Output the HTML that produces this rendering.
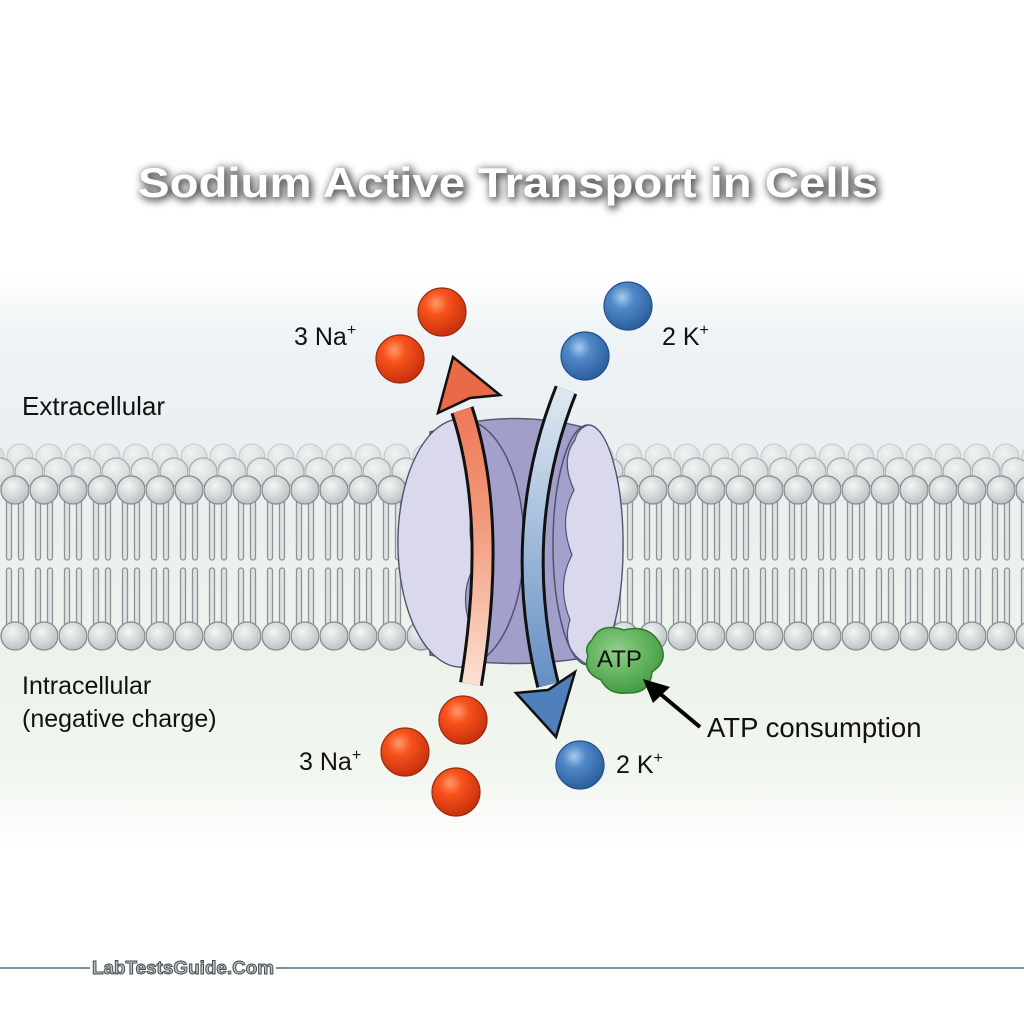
<!DOCTYPE html>
<html><head><meta charset="utf-8"><style>
html,body{margin:0;padding:0;background:#fff}
svg{display:block}
text{font-family:"Liberation Sans",sans-serif}
</style></head><body>
<svg width="1024" height="1024" viewBox="0 0 1024 1024" xmlns="http://www.w3.org/2000/svg">
<defs>
<linearGradient id="bg" x1="0" y1="0" x2="0" y2="1">
<stop offset="0.27" stop-color="#ffffff"/>
<stop offset="0.33" stop-color="#eef3f5"/>
<stop offset="0.45" stop-color="#e9eff0"/>
<stop offset="0.66" stop-color="#edf3ea"/>
<stop offset="0.76" stop-color="#f2f6f0"/>
<stop offset="0.83" stop-color="#ffffff"/>
</linearGradient>
<radialGradient id="head" cx="0.4" cy="0.35" r="0.7">
<stop offset="0" stop-color="#f4f6f6"/><stop offset="1" stop-color="#b8bfc0"/>
</radialGradient>
<radialGradient id="headb" cx="0.4" cy="0.35" r="0.7">
<stop offset="0" stop-color="#f2f4f4"/><stop offset="1" stop-color="#cfd5d6"/>
</radialGradient>
<pattern id="lipid" patternUnits="userSpaceOnUse" x="1" y="0" width="29" height="1024">
<g fill="#dfe3e3" stroke="#8d9495" stroke-width="1.3">
<rect x="5.5" y="500" width="5" height="60" rx="2.5"/>
<rect x="17.5" y="500" width="5" height="60" rx="2.5"/>
<rect x="5.5" y="568" width="5" height="58" rx="2.5"/>
<rect x="17.5" y="568" width="5" height="58" rx="2.5"/>
</g>
<circle cx="14" cy="490" r="14" fill="url(#head)" stroke="#858c8d" stroke-width="1.3"/>
<circle cx="14" cy="636" r="14" fill="url(#head)" stroke="#858c8d" stroke-width="1.3"/>
</pattern>
<pattern id="back1" patternUnits="userSpaceOnUse" x="15" y="0" width="29" height="1024">
<circle cx="14" cy="472" r="14" fill="url(#headb)" stroke="#a5acad" stroke-width="1.2"/>
</pattern>
<pattern id="back2" patternUnits="userSpaceOnUse" x="6" y="0" width="29" height="1024">
<circle cx="14" cy="457" r="13" fill="url(#headb)" stroke="#bbc1c2" stroke-width="1.1" opacity="0.8"/>
</pattern>
<radialGradient id="na" cx="0.38" cy="0.32" r="0.7">
<stop offset="0" stop-color="#ff9a6a"/><stop offset="0.35" stop-color="#f8521c"/><stop offset="1" stop-color="#c5300d"/>
</radialGradient>
<radialGradient id="k" cx="0.38" cy="0.32" r="0.7">
<stop offset="0" stop-color="#a9c9ec"/><stop offset="0.35" stop-color="#4f88c8"/><stop offset="1" stop-color="#2c5d9c"/>
</radialGradient>
<linearGradient id="og" gradientUnits="userSpaceOnUse" x1="0" y1="360" x2="0" y2="685">
<stop offset="0" stop-color="#ea6a48"/><stop offset="0.5" stop-color="#f29a7c"/><stop offset="1" stop-color="#fde0d2"/>
</linearGradient>
<linearGradient id="bgr" gradientUnits="userSpaceOnUse" x1="0" y1="388" x2="0" y2="735">
<stop offset="0" stop-color="#dfe9f2"/><stop offset="0.5" stop-color="#97b4d6"/><stop offset="1" stop-color="#4f7fbd"/>
</linearGradient>
<radialGradient id="atp" cx="0.4" cy="0.35" r="0.7">
<stop offset="0" stop-color="#8fd089"/><stop offset="1" stop-color="#3f9a3c"/>
</radialGradient>
<filter id="blur" x="-10%" y="-60%" width="120%" height="220%">
<feGaussianBlur stdDeviation="4"/>
</filter>
</defs>
<rect width="1024" height="1024" fill="url(#bg)"/>

<!-- membrane -->
<rect x="0" y="440" width="1024" height="50" fill="url(#back2)"/>
<rect x="0" y="455" width="1024" height="40" fill="url(#back1)"/>
<rect x="0" y="470" width="1024" height="190" fill="url(#lipid)"/>

<!-- protein -->
<path d="M430,432 Q515,405 600,432 L600,655 Q515,672 430,655 Z" fill="#a19fc9" stroke="#555a75" stroke-width="1.5"/>
<ellipse cx="461" cy="543" rx="63" ry="124" fill="#a3a1cb" stroke="#4e5270" stroke-width="1.5"/>
<path d="M461,419 A63,124 0 0 0 461,667 Q490,650 470,625 Q458,590 478,560 Q462,530 478,500 Q460,470 476,445 Q480,425 461,419 Z" fill="#d9d8ec" stroke="#4e5270" stroke-width="1.2"/>
<ellipse cx="588" cy="545" rx="35" ry="120" fill="#a3a1cb" stroke="#4e5270" stroke-width="1.5"/>
<path d="M588,425 A35,120 0 0 1 588,665 Q560,650 570,620 Q556,585 572,555 Q558,520 574,490 Q560,460 575,440 Q578,428 588,425 Z" fill="#d9d8ec" stroke="#4e5270" stroke-width="1.2"/>

<!-- orange arrow -->
<path d="M471,684 Q498,520 462,410" fill="none" stroke="#111" stroke-width="24"/>
<path d="M471,684 Q498,520 462,410" fill="none" stroke="url(#og)" stroke-width="18"/>
<polygon points="453,357 500,395 470,398 438,413" fill="#ea6a48" stroke="#111" stroke-width="2.5" stroke-linejoin="miter"/>
<!-- blue arrow -->
<path d="M566,390 Q510,530 548,685" fill="none" stroke="#111" stroke-width="24"/>
<path d="M566,390 Q510,530 548,685" fill="none" stroke="url(#bgr)" stroke-width="18"/>
<polygon points="516,693 548,690 575,672 556,737" fill="#4f7fbd" stroke="#111" stroke-width="2.5"/>

<!-- ATP -->
<path d="M592,640 Q600,622 624,630 Q648,624 659,642 Q670,660 652,672 Q650,694 627,693 Q609,695 601,680 Q582,672 588,656 Q584,647 592,640 Z" fill="url(#atp)" stroke="#2f7a2e" stroke-width="1.5"/>
<text x="597" y="667" font-size="24" fill="#111">ATP</text>
<line x1="700" y1="727" x2="658" y2="692" stroke="#000" stroke-width="4"/>
<polygon points="643,679 670,687 653,703" fill="#000"/>

<!-- ions -->
<g stroke-width="1.2">
<circle cx="442" cy="312" r="24" fill="url(#na)" stroke="#9a2a0c"/>
<circle cx="400" cy="359" r="24" fill="url(#na)" stroke="#9a2a0c"/>
<circle cx="628" cy="306" r="24" fill="url(#k)" stroke="#24508a"/>
<circle cx="585" cy="356" r="24" fill="url(#k)" stroke="#24508a"/>
<circle cx="463" cy="720" r="24" fill="url(#na)" stroke="#9a2a0c"/>
<circle cx="405" cy="752" r="24" fill="url(#na)" stroke="#9a2a0c"/>
<circle cx="456" cy="792" r="24" fill="url(#na)" stroke="#9a2a0c"/>
<circle cx="580" cy="765" r="24" fill="url(#k)" stroke="#24508a"/>
</g>

<!-- labels -->
<g font-size="25" fill="#111">
<text x="294" y="345">3 Na<tspan font-size="16" dy="-10">+</tspan></text>
<text x="662" y="345">2 K<tspan font-size="16" dy="-10">+</tspan></text>
<text x="22" y="415" font-size="26">Extracellular</text>
<text x="22" y="694">Intracellular</text>
<text x="22" y="727">(negative charge)</text>
<text x="299" y="770">3 Na<tspan font-size="16" dy="-10">+</tspan></text>
<text x="616" y="773">2 K<tspan font-size="16" dy="-10">+</tspan></text>
<text x="707" y="737" font-size="27.5">ATP consumption</text>
</g>

<!-- title -->
<text x="510" y="199" font-size="42" font-weight="bold" fill="#3a3a3a" stroke="#3a3a3a" stroke-width="3" text-anchor="middle" textLength="740" lengthAdjust="spacingAndGlyphs" filter="url(#blur)" opacity="0.85">Sodium Active Transport in Cells</text>
<text x="508" y="197" font-size="42" font-weight="bold" fill="#ffffff" text-anchor="middle" textLength="740" lengthAdjust="spacingAndGlyphs">Sodium Active Transport in Cells</text>

<!-- footer -->
<line x1="0" y1="968" x2="90" y2="968" stroke="#7b8fa0" stroke-width="2"/>
<line x1="276" y1="968" x2="1024" y2="968" stroke="#7b8fa0" stroke-width="2"/>
<text x="92" y="974" font-family="Liberation Serif,serif" font-size="18" font-weight="bold" fill="#b9bfc2" stroke="#3f4a4d" stroke-width="0.9" textLength="182" lengthAdjust="spacingAndGlyphs">LabTestsGuide.Com</text>
</svg>
</body></html>
